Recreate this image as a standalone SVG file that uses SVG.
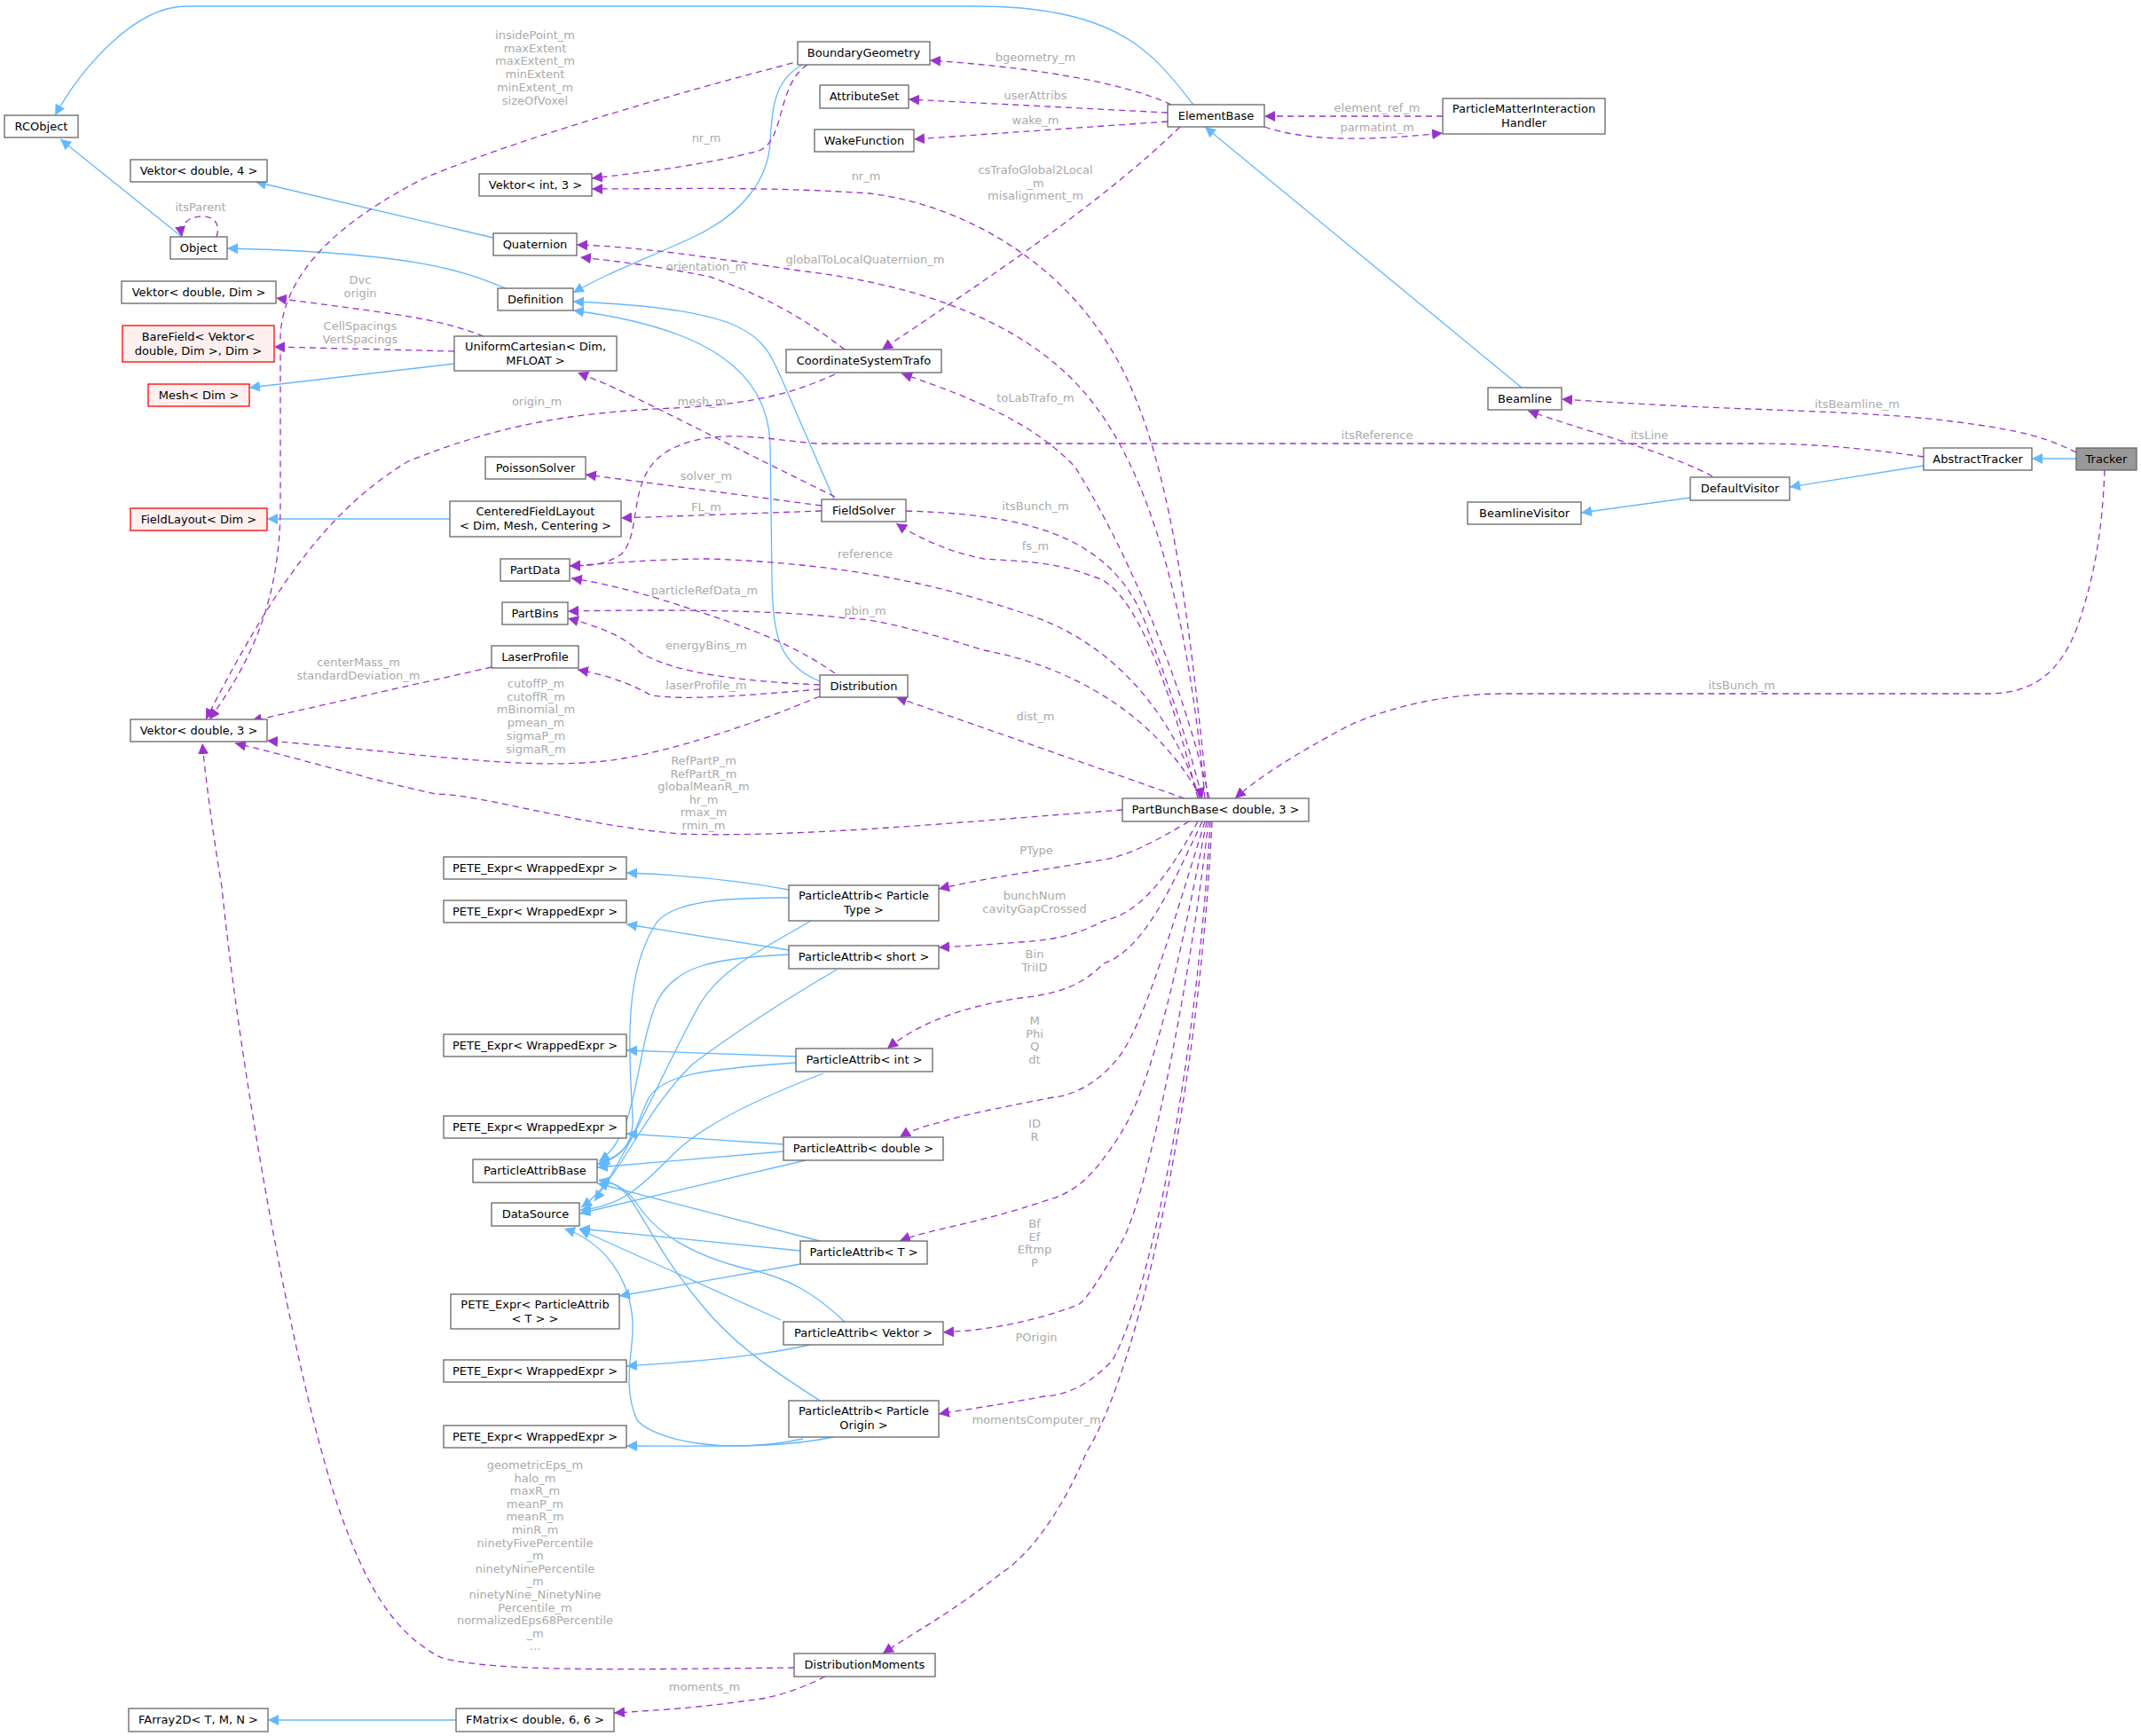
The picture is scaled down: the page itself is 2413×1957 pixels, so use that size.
<svg xmlns="http://www.w3.org/2000/svg" width="2413" height="1957" viewBox="0 0 2413 1957">
<style>
.n rect{fill:#fff;stroke:#666;stroke-width:1.3}
.n.r rect{fill:#fff0f0;stroke:#f00}
.n.g rect{fill:#999;stroke:#666}
text{font-family:"DejaVu Sans",sans-serif;font-size:13px;fill:#000}
.n text{text-anchor:middle}
.l{fill:#aaa;text-anchor:middle}
.b{fill:none;stroke:#63b8ff;stroke-width:1.3;marker-end:url(#ab)}
.p{fill:none;stroke:#9a32cd;stroke-width:1.3;stroke-dasharray:7,5;marker-end:url(#ap)}
</style>
<defs>
<marker id="ab" viewBox="0 0 10 10" refX="10" refY="5" markerWidth="12" markerHeight="12" markerUnits="userSpaceOnUse" orient="auto"><path d="M0,0L10,5L0,10z" fill="#63b8ff"/></marker>
<marker id="ap" viewBox="0 0 10 10" refX="10" refY="5" markerWidth="12" markerHeight="12" markerUnits="userSpaceOnUse" orient="auto"><path d="M0,0L10,5L0,10z" fill="#9a32cd"/></marker>
</defs>
<rect width="2413" height="1957" fill="#fff"/>
<g id="edges">
<path class="b" d="M1345,118 C1300,60 1260,7 1100,7 L210,7 C150,7 90,80 62,130"/>
<path class="b" d="M205,267 L68,157"/>
<path class="b" d="M556,268 L288,205"/>
<path class="b" d="M570,325 C520,305 470,285 256,280"/>
<path class="b" d="M905,73 C870,90 870,130 868,160 C866,200 840,240 780,268 C720,295 680,310 646,330"/>
<path class="b" d="M940,563 L880,425 C860,380 850,348 646,340"/>
<path class="b" d="M924,768 C880,750 870,720 870,650 L868,500 C865,420 800,370 646,350"/>
<path class="b" d="M512,410 L281,437"/>
<path class="b" d="M507,585 L301,585"/>
<path class="b" d="M1715,437 L1358,143"/>
<path class="b" d="M2340,517 L2290,517"/>
<path class="b" d="M2168,525 L2017,549"/>
<path class="b" d="M1905,561 L1782,578"/>
<path class="b" d="M514,1939 L302,1939"/>
<path class="b" d="M889,1003 C820,990 760,986 706,984"/>
<path class="b" d="M889,1012 C820,1012 760,1015 740,1040 C700,1100 710,1200 713,1260 C714,1290 700,1305 673,1313"/>
<path class="b" d="M914,1038 C860,1070 815,1090 790,1130 C750,1200 720,1280 670,1354"/>
<path class="b" d="M889,1071 L706,1042"/>
<path class="b" d="M889,1076 C800,1080 760,1090 740,1130 C715,1190 720,1280 675,1309"/>
<path class="b" d="M943,1093 C880,1130 820,1170 780,1200 C720,1260 700,1330 655,1361"/>
<path class="b" d="M897,1191 L706,1184"/>
<path class="b" d="M897,1198 C800,1205 745,1210 730,1240 C715,1270 715,1300 675,1311"/>
<path class="b" d="M928,1210 C850,1240 790,1270 760,1300 C720,1340 700,1360 654,1364"/>
<path class="b" d="M883,1290 L706,1278"/>
<path class="b" d="M883,1298 L673,1316"/>
<path class="b" d="M908,1308 L653,1368"/>
<path class="b" d="M924,1399 L673,1334"/>
<path class="b" d="M902,1410 L653,1385"/>
<path class="b" d="M902,1425 L698,1461"/>
<path class="b" d="M913,1516 C850,1530 780,1535 706,1540"/>
<path class="b" d="M952,1490 C920,1460 890,1440 840,1430 C780,1415 740,1390 720,1360 C710,1345 700,1335 675,1330"/>
<path class="b" d="M880,1488 L653,1386"/>
<path class="b" d="M939,1620 C880,1632 840,1630 706,1630"/>
<path class="b" d="M924,1579 C880,1550 830,1520 790,1470 C740,1410 720,1360 705,1345 C695,1335 690,1333 675,1331"/>
<path class="b" d="M905,1622 C820,1640 740,1625 718,1601 C700,1560 715,1520 713,1490 C710,1440 680,1400 636,1385"/>
<path class="p" d="M905,68 C800,95 600,150 480,200 C380,250 318,310 316,380 L316,570 C316,680 280,750 236,811"/>
<path class="p" d="M910,73 C875,95 885,160 855,170 C800,185 720,195 667,201"/>
<path class="p" d="M1361,900 C1340,700 1320,500 1250,390 C1190,290 1080,230 980,218 C860,210 760,213 667,213"/>
<path class="p" d="M1320,118 C1260,90 1150,75 1048,68"/>
<path class="p" d="M1316,127 L1024,112"/>
<path class="p" d="M1316,137 L1030,157"/>
<path class="p" d="M1626,131 L1425,131"/>
<path class="p" d="M1425,143 C1470,158 1530,160 1626,150"/>
<path class="p" d="M1330,143 C1250,220 1150,290 994,394"/>
<path class="p" d="M1358,900 C1340,700 1300,530 1220,440 C1150,360 1030,320 900,305 C800,290 720,278 650,276"/>
<path class="p" d="M952,394 C920,370 880,340 800,312 C740,300 700,295 654,290"/>
<path class="p" d="M545,379 C520,370 500,362 430,352 C380,345 340,340 311,336"/>
<path class="p" d="M512,396 L309,391"/>
<path class="p" d="M941,422 C900,440 860,455 760,460 C640,465 560,480 460,520 C360,580 300,680 232,811"/>
<path class="p" d="M941,560 C880,530 820,500 760,470 C720,450 690,435 651,420"/>
<path class="p" d="M2168,515 C2100,505 2040,500 1980,500 L920,500 C860,495 800,480 750,510 C705,540 725,600 700,625 C680,638 660,638 642,638"/>
<path class="p" d="M926,570 L660,535"/>
<path class="p" d="M926,576 L700,584"/>
<path class="p" d="M1021,576 C1150,580 1250,600 1290,700 C1320,780 1340,840 1355,900"/>
<path class="p" d="M1350,900 C1320,780 1280,660 1232,650 C1191,633 1150,633 1109,630 C1080,625 1040,610 1010,590"/>
<path class="p" d="M1352,900 C1320,800 1250,720 1150,690 C1060,660 960,636 800,630 C740,630 690,635 642,638"/>
<path class="p" d="M941,759 C900,730 850,710 804,695 C760,680 700,660 644,652"/>
<path class="p" d="M1354,900 C1300,800 1200,750 1109,733 C1050,715 990,697 954,697 C900,690 800,686 640,689"/>
<path class="p" d="M924,772 C840,768 760,760 721,735 C700,715 670,705 640,697"/>
<path class="p" d="M924,777 C850,783 780,790 734,784 C710,770 680,760 651,755"/>
<path class="p" d="M554,752 L283,813"/>
<path class="p" d="M924,785 C840,820 760,845 702,855 C640,866 560,860 460,850 C400,844 340,838 301,835"/>
<path class="p" d="M1265,913 C1100,925 900,945 766,940 C650,930 540,895 491,895 C420,880 320,850 265,838"/>
<path class="p" d="M2372,530 C2370,580 2365,640 2340,710 C2320,760 2290,782 2240,782 L1695,782 C1620,782 1560,800 1520,818 C1460,850 1420,875 1392,900"/>
<path class="p" d="M2340,510 C2310,495 2282,485 2200,475 C2120,465 2035,464 1900,458 C1840,455 1790,452 1760,450"/>
<path class="p" d="M1930,537 C1880,510 1800,490 1722,463"/>
<path class="p" d="M1363,900 C1330,760 1270,620 1212,527 C1160,470 1070,440 1016,421"/>
<path class="p" d="M1335,900 L1010,786"/>
<path class="p" d="M1340,926 C1300,950 1270,965 1244,969 C1180,980 1110,990 1058,1002"/>
<path class="p" d="M1350,926 C1310,1000 1280,1030 1244,1038 C1220,1050 1200,1059 1150,1062 C1110,1065 1080,1067 1058,1068"/>
<path class="p" d="M1355,926 C1320,1000 1290,1070 1244,1086 C1220,1110 1196,1120 1150,1125 C1091,1134 1040,1150 1000,1182"/>
<path class="p" d="M1358,926 C1320,1050 1290,1150 1263,1189 C1240,1220 1210,1235 1187,1237 C1120,1250 1081,1258 1060,1265 C1040,1270 1025,1275 1014,1282"/>
<path class="p" d="M1360,926 C1330,1080 1300,1220 1263,1278 C1230,1330 1210,1345 1177,1354 C1100,1380 1050,1385 1014,1399"/>
<path class="p" d="M1362,926 C1340,1120 1290,1360 1263,1402 C1240,1440 1225,1465 1215,1471 C1150,1495 1100,1500 1063,1502"/>
<path class="p" d="M1364,926 C1350,1180 1300,1450 1254,1533 C1230,1560 1200,1574 1177,1574 C1120,1585 1080,1590 1058,1594"/>
<path class="p" d="M1366,926 C1350,1250 1280,1550 1225,1636 C1190,1720 1150,1760 1129,1773 C1070,1820 1030,1840 995,1864"/>
<path class="p" d="M895,1880 C700,1882 560,1885 498,1869 C440,1840 410,1780 383,1704 C330,1550 270,1200 250,1000 C240,940 232,880 228,838"/>
<path class="p" d="M930,1890 C900,1905 870,1915 842,1917 C790,1925 740,1928 692,1931"/>
<path class="p" d="M244,267 C248,255 244,244 228,244 C210,244 203,255 205,267"/>
</g>
<g id="labels">
<text class="l" x="603" y="44">insidePoint_m<tspan x="603" dy="14.7">maxExtent</tspan><tspan x="603" dy="14.7">maxExtent_m</tspan><tspan x="603" dy="14.7">minExtent</tspan><tspan x="603" dy="14.7">minExtent_m</tspan><tspan x="603" dy="14.7">sizeOfVoxel</tspan></text>
<text class="l" x="796" y="160">nr_m</text>
<text class="l" x="976" y="203">nr_m</text>
<text class="l" x="1167" y="69">bgeometry_m</text>
<text class="l" x="1167" y="112">userAttribs</text>
<text class="l" x="1167" y="140">wake_m</text>
<text class="l" x="1552" y="126">element_ref_m</text>
<text class="l" x="1552" y="148">parmatint_m</text>
<text class="l" x="1167" y="196">csTrafoGlobal2Local<tspan x="1167" dy="14.5">_m</tspan><tspan x="1167" dy="14.5">misalignment_m</tspan></text>
<text class="l" x="975" y="297">globalToLocalQuaternion_m</text>
<text class="l" x="796" y="305">orientation_m</text>
<text class="l" x="406" y="320">Dvc<tspan x="406" dy="14.7">origin</tspan></text>
<text class="l" x="406" y="372">CellSpacings<tspan x="406" dy="14.7">VertSpacings</tspan></text>
<text class="l" x="605" y="457">origin_m</text>
<text class="l" x="791" y="457">mesh_m</text>
<text class="l" x="1552" y="495">itsReference</text>
<text class="l" x="796" y="541">solver_m</text>
<text class="l" x="796" y="576">FL_m</text>
<text class="l" x="1167" y="575">itsBunch_m</text>
<text class="l" x="1167" y="620">fs_m</text>
<text class="l" x="975" y="629">reference</text>
<text class="l" x="794" y="670">particleRefData_m</text>
<text class="l" x="975" y="693">pbin_m</text>
<text class="l" x="796" y="732">energyBins_m</text>
<text class="l" x="796" y="777">laserProfile_m</text>
<text class="l" x="404" y="751">centerMass_m<tspan x="404" dy="14.7">standardDeviation_m</tspan></text>
<text class="l" x="604" y="775">cutoffP_m<tspan x="604" dy="14.7">cutoffR_m</tspan><tspan x="604" dy="14.7">mBinomial_m</tspan><tspan x="604" dy="14.7">pmean_m</tspan><tspan x="604" dy="14.7">sigmaP_m</tspan><tspan x="604" dy="14.7">sigmaR_m</tspan></text>
<text class="l" x="793" y="862">RefPartP_m<tspan x="793" dy="14.5">RefPartR_m</tspan><tspan x="793" dy="14.5">globalMeanR_m</tspan><tspan x="793" dy="14.5">hr_m</tspan><tspan x="793" dy="14.5">rmax_m</tspan><tspan x="793" dy="14.5">rmin_m</tspan></text>
<text class="l" x="1963" y="777">itsBunch_m</text>
<text class="l" x="2093" y="460">itsBeamline_m</text>
<text class="l" x="1859" y="495">itsLine</text>
<text class="l" x="1167" y="453">toLabTrafo_m</text>
<text class="l" x="1167" y="812">dist_m</text>
<text class="l" x="1168" y="963">PType</text>
<text class="l" x="1166" y="1014">bunchNum<tspan x="1166" dy="14.5">cavityGapCrossed</tspan></text>
<text class="l" x="1166" y="1080">Bin<tspan x="1166" dy="14.5">TriID</tspan></text>
<text class="l" x="1166" y="1155">M<tspan x="1166" dy="14.5">Phi</tspan><tspan x="1166" dy="14.5">Q</tspan><tspan x="1166" dy="14.5">dt</tspan></text>
<text class="l" x="1166" y="1271">ID<tspan x="1166" dy="14.5">R</tspan></text>
<text class="l" x="1166" y="1384">Bf<tspan x="1166" dy="14.5">Ef</tspan><tspan x="1166" dy="14.5">Eftmp</tspan><tspan x="1166" dy="14.5">P</tspan></text>
<text class="l" x="1168" y="1512">POrigin</text>
<text class="l" x="1168" y="1605">momentsComputer_m</text>
<text class="l" x="603" y="1656">geometricEps_m<tspan x="603" dy="14.6">halo_m</tspan><tspan x="603" dy="14.6">maxR_m</tspan><tspan x="603" dy="14.6">meanP_m</tspan><tspan x="603" dy="14.6">meanR_m</tspan><tspan x="603" dy="14.6">minR_m</tspan><tspan x="603" dy="14.6">ninetyFivePercentile</tspan><tspan x="603" dy="14.6">_m</tspan><tspan x="603" dy="14.6">ninetyNinePercentile</tspan><tspan x="603" dy="14.6">_m</tspan><tspan x="603" dy="14.6">ninetyNine_NinetyNine</tspan><tspan x="603" dy="14.6">Percentile_m</tspan><tspan x="603" dy="14.6">normalizedEps68Percentile</tspan><tspan x="603" dy="14.6">_m</tspan><tspan x="603" dy="14.6">...</tspan></text>
<text class="l" x="794" y="1906">moments_m</text>
<text class="l" x="226" y="238">itsParent</text>
</g>
<g id="n_RCObject" class="n"><rect x="5" y="130" width="83" height="25"/><text x="46.5" y="147">RCObject</text></g>
<g id="n_Vd4" class="n"><rect x="147" y="180" width="154" height="25"/><text x="224" y="197">Vektor&lt; double, 4 &gt;</text></g>
<g id="n_Object" class="n"><rect x="192" y="267" width="64" height="25"/><text x="224" y="284">Object</text></g>
<g id="n_Vi3" class="n"><rect x="540" y="196" width="127" height="25"/><text x="603.5" y="213">Vektor&lt; int, 3 &gt;</text></g>
<g id="n_Quaternion" class="n"><rect x="556" y="263" width="94" height="25"/><text x="603" y="280">Quaternion</text></g>
<g id="n_Definition" class="n"><rect x="561" y="325" width="85" height="25"/><text x="603.5" y="342">Definition</text></g>
<g id="n_VdDim" class="n"><rect x="137" y="317" width="174" height="25"/><text x="224" y="334">Vektor&lt; double, Dim &gt;</text></g>
<g id="n_BareField" class="n r"><rect x="138" y="367" width="171" height="41"/><text x="223.5" y="384">BareField&lt; Vektor&lt;</text><text x="223.5" y="400">double, Dim &gt;, Dim &gt;</text></g>
<g id="n_UC" class="n"><rect x="512" y="379" width="183" height="39"/><text x="603.5" y="395">UniformCartesian&lt; Dim,</text><text x="603.5" y="411">MFLOAT &gt;</text></g>
<g id="n_Mesh" class="n r"><rect x="167" y="433" width="114" height="25"/><text x="224" y="450">Mesh&lt; Dim &gt;</text></g>
<g id="n_Poisson" class="n"><rect x="547" y="515" width="113" height="25"/><text x="603.5" y="532">PoissonSolver</text></g>
<g id="n_FieldLayout" class="n r"><rect x="147" y="573" width="154" height="25"/><text x="224" y="590">FieldLayout&lt; Dim &gt;</text></g>
<g id="n_CFL" class="n"><rect x="507" y="565" width="193" height="40"/><text x="603.5" y="581">CenteredFieldLayout</text><text x="603.5" y="597">&lt; Dim, Mesh, Centering &gt;</text></g>
<g id="n_PartData" class="n"><rect x="564" y="630" width="78" height="25"/><text x="603" y="647">PartData</text></g>
<g id="n_PartBins" class="n"><rect x="566" y="679" width="74" height="25"/><text x="603" y="696">PartBins</text></g>
<g id="n_Laser" class="n"><rect x="554" y="728" width="98" height="25"/><text x="603" y="745">LaserProfile</text></g>
<g id="n_Vd3" class="n"><rect x="147" y="811" width="154" height="25"/><text x="224" y="828">Vektor&lt; double, 3 &gt;</text></g>
<g id="n_BG" class="n"><rect x="899" y="47" width="149" height="26"/><text x="973.5" y="64">BoundaryGeometry</text></g>
<g id="n_AttributeSet" class="n"><rect x="924" y="96" width="100" height="26"/><text x="974" y="113">AttributeSet</text></g>
<g id="n_Wake" class="n"><rect x="918" y="146" width="112" height="25"/><text x="974" y="163">WakeFunction</text></g>
<g id="n_ElementBase" class="n"><rect x="1316" y="118" width="109" height="25"/><text x="1370.5" y="135">ElementBase</text></g>
<g id="n_PMIH" class="n"><rect x="1626" y="111" width="183" height="40"/><text x="1717.5" y="127">ParticleMatterInteraction</text><text x="1717.5" y="143">Handler</text></g>
<g id="n_CST" class="n"><rect x="886" y="394" width="175" height="26"/><text x="973.5" y="411">CoordinateSystemTrafo</text></g>
<g id="n_Beamline" class="n"><rect x="1677" y="437" width="83" height="25"/><text x="1718.5" y="454">Beamline</text></g>
<g id="n_AbstractTracker" class="n"><rect x="2168" y="505" width="122" height="25"/><text x="2229" y="522">AbstractTracker</text></g>
<g id="n_Tracker" class="n g"><rect x="2340" y="505" width="68" height="25"/><text x="2374" y="522">Tracker</text></g>
<g id="n_DefaultVisitor" class="n"><rect x="1905" y="538" width="112" height="26"/><text x="1961" y="555">DefaultVisitor</text></g>
<g id="n_BeamlineVisitor" class="n"><rect x="1654" y="566" width="128" height="25"/><text x="1718" y="583">BeamlineVisitor</text></g>
<g id="n_FieldSolver" class="n"><rect x="926" y="563" width="95" height="25"/><text x="973.5" y="580">FieldSolver</text></g>
<g id="n_Distribution" class="n"><rect x="924" y="761" width="99" height="25"/><text x="973.5" y="778">Distribution</text></g>
<g id="n_PBB" class="n"><rect x="1265" y="900" width="210" height="26"/><text x="1370" y="917">PartBunchBase&lt; double, 3 &gt;</text></g>
<g id="n_PETE1" class="n"><rect x="500" y="966" width="206" height="25"/><text x="603" y="983">PETE_Expr&lt; WrappedExpr &gt;</text></g>
<g id="n_PAType" class="n"><rect x="889" y="998" width="169" height="40"/><text x="973.5" y="1014">ParticleAttrib&lt; Particle</text><text x="973.5" y="1030">Type &gt;</text></g>
<g id="n_PETE2" class="n"><rect x="500" y="1015" width="206" height="25"/><text x="603" y="1032">PETE_Expr&lt; WrappedExpr &gt;</text></g>
<g id="n_PAshort" class="n"><rect x="889" y="1066" width="169" height="26"/><text x="973.5" y="1083">ParticleAttrib&lt; short &gt;</text></g>
<g id="n_PETE3" class="n"><rect x="500" y="1166" width="206" height="25"/><text x="603" y="1183">PETE_Expr&lt; WrappedExpr &gt;</text></g>
<g id="n_PAint" class="n"><rect x="897" y="1182" width="154" height="26"/><text x="974" y="1199">ParticleAttrib&lt; int &gt;</text></g>
<g id="n_PETE4" class="n"><rect x="500" y="1258" width="206" height="25"/><text x="603" y="1275">PETE_Expr&lt; WrappedExpr &gt;</text></g>
<g id="n_PAdouble" class="n"><rect x="883" y="1282" width="180" height="26"/><text x="973" y="1299">ParticleAttrib&lt; double &gt;</text></g>
<g id="n_PAB" class="n"><rect x="533" y="1307" width="140" height="26"/><text x="603" y="1324">ParticleAttribBase</text></g>
<g id="n_DS" class="n"><rect x="554" y="1356" width="99" height="26"/><text x="603.5" y="1373">DataSource</text></g>
<g id="n_PAT" class="n"><rect x="902" y="1399" width="143" height="26"/><text x="973.5" y="1416">ParticleAttrib&lt; T &gt;</text></g>
<g id="n_PETEPA" class="n"><rect x="508" y="1459" width="190" height="39"/><text x="603" y="1475">PETE_Expr&lt; ParticleAttrib</text><text x="603" y="1491">&lt; T &gt; &gt;</text></g>
<g id="n_PAVektor" class="n"><rect x="883" y="1490" width="180" height="26"/><text x="973" y="1507">ParticleAttrib&lt; Vektor &gt;</text></g>
<g id="n_PETE5" class="n"><rect x="500" y="1533" width="206" height="25"/><text x="603" y="1550">PETE_Expr&lt; WrappedExpr &gt;</text></g>
<g id="n_PAOrigin" class="n"><rect x="889" y="1579" width="169" height="41"/><text x="973.5" y="1595">ParticleAttrib&lt; Particle</text><text x="973.5" y="1611">Origin &gt;</text></g>
<g id="n_PETE6" class="n"><rect x="500" y="1607" width="206" height="25"/><text x="603" y="1624">PETE_Expr&lt; WrappedExpr &gt;</text></g>
<g id="n_DM" class="n"><rect x="895" y="1864" width="159" height="26"/><text x="974.5" y="1881">DistributionMoments</text></g>
<g id="n_FArray" class="n"><rect x="145" y="1926" width="157" height="26"/><text x="223.5" y="1943">FArray2D&lt; T, M, N &gt;</text></g>
<g id="n_FMatrix" class="n"><rect x="514" y="1926" width="178" height="26"/><text x="603" y="1943">FMatrix&lt; double, 6, 6 &gt;</text></g>
</svg>
